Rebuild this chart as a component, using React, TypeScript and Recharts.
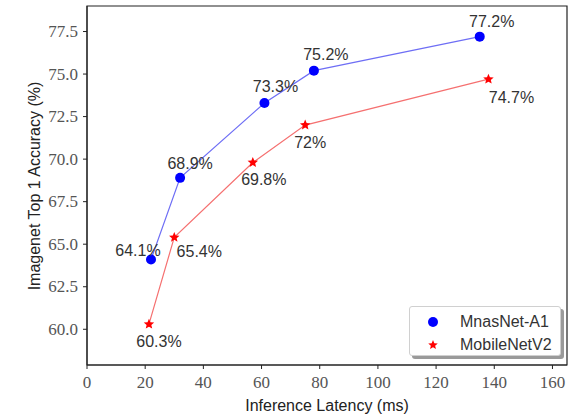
import React from "react";
import {
  ScatterChart,
  Scatter,
  XAxis,
  YAxis,
  ReferenceArea,
  Legend,
  Label
} from "recharts";

// latency (ms) and top-1 accuracy (%)
const mnasLatency = [22, 32, 61, 78, 135];
const mnasAcc = [64.1, 68.9, 73.3, 75.2, 77.2];
const mobileLatency = [21.3, 30, 57, 75, 138];
const mobileAcc = [60.3, 65.4, 69.8, 72, 74.7];

const xTicks = [0, 20, 40, 60, 80, 100, 120, 140, 160];
const yTicks = [60, 62.5, 65, 67.5, 70, 72.5, 75, 77.5];

// where each percentage label sits relative to its marker
const mnasLabelPos = [[-13, -9], [10, -14], [11, -16], [12, -16], [12, -15]];
const mobileLabelPos = [[10, 17], [25, 14], [11, 17], [5, 17], [23, 18]];

const mnasData = mnasLatency.map((x, i) => ({ x, y: mnasAcc[i] }));
const mobileData = mobileLatency.map((x, i) => ({ x, y: mobileAcc[i] }));

const sans = "'Liberation Sans', Arial, sans-serif";
const serif = "'Liberation Serif', serif";

const starPath = (cx: number, cy: number, r: number) => {
  const pts: string[] = [];
  for (let k = 0; k < 10; k++) {
    const rr = k % 2 === 0 ? r : r * 0.45;
    const a = -Math.PI / 2 + (k * Math.PI) / 5;
    pts.push(`${cx + rr * Math.cos(a)},${cy + rr * Math.sin(a)}`);
  }
  return pts.join(" ");
};

const pctText = (cx: number, cy: number, value: number, pos: number[]) => (
  <text
    x={cx + pos[0]}
    y={cy + pos[1]}
    textAnchor="middle"
    dominantBaseline="central"
    fontFamily={sans}
    fontSize={16}
    fill="#333"
  >
    {value}%
  </text>
);

const MnasShape = (props: any) => {
  const { cx, cy, index, payload } = props;
  return (
    <g>
      <circle cx={cx} cy={cy} r={5} fill="#0000ff" />
      {pctText(cx, cy, payload.y, mnasLabelPos[index])}
    </g>
  );
};

const MobileShape = (props: any) => {
  const { cx, cy, index, payload } = props;
  return (
    <g>
      <polygon points={starPath(cx, cy, 5.5)} fill="#ff0000" />
      {pctText(cx, cy, payload.y, mobileLabelPos[index])}
    </g>
  );
};

const renderXTick = (props: any) => {
  const { x, y, payload } = props;
  return (
    <text
      key={`xt-${payload.value}`}
      x={x}
      y={y + 8}
      textAnchor="middle"
      dominantBaseline="central"
      style={{ fontFamily: serif, fontSize: 17, fill: "#555" }}
    >
      {payload.value}
    </text>
  );
};

const renderYTick = (props: any) => {
  const { x, y, payload } = props;
  return (
    <text
      key={`yt-${payload.value}`}
      x={x}
      y={y}
      textAnchor="end"
      dominantBaseline="central"
      style={{ fontFamily: serif, fontSize: 17, fill: "#555" }}
    >
      {Number(payload.value).toFixed(1)}
    </text>
  );
};

const renderLegend = () => (
  <div
    style={{
      width: 152,
      height: 50,
      boxSizing: "border-box",
      border: "1px solid #d0d0d0",
      borderRadius: 3,
      background: "#fff",
      boxShadow: "3px 3px 0 #9a9a9a",
      fontFamily: sans,
      fontSize: 16,
      color: "#333",
      padding: "3px 0 0 0"
    }}
  >
    <div style={{ display: "flex", alignItems: "center", height: 23 }}>
      <svg width={50} height={20}>
        <circle cx={23} cy={10} r={5} fill="#0000ff" />
      </svg>
      <span>MnasNet-A1</span>
    </div>
    <div style={{ display: "flex", alignItems: "center", height: 23 }}>
      <svg width={50} height={20}>
        <polygon points={starPath(23, 10, 5)} fill="#ff0000" />
      </svg>
      <span>MobileNetV2</span>
    </div>
  </div>
);

const YTitle = () => (
  <text
    x={34}
    y={186}
    transform="rotate(-90 34 186)"
    textAnchor="middle"
    dominantBaseline="central"
    fontFamily={sans}
    fontSize={16}
    fill="#222"
  >
    Imagenet Top 1 Accuracy (%)
  </text>
);

export default function App() {
  return (
    <div style={{ position: "absolute", left: 0, top: 0, background: "#fff" }}>
      <ScatterChart
        width={581}
        height={414}
        margin={{ top: 6, right: 14, bottom: 0, left: 0 }}
      >
        <XAxis
          type="number"
          dataKey="x"
          domain={[0, 165]}
          ticks={xTicks}
          height={49}
          tickSize={4}
          tickMargin={5}
          stroke="#222"
          tick={renderXTick}
          allowDataOverflow
        >
          <Label
            value="Inference Latency (ms)"
            position="insideBottom"
            offset={3}
            style={{ fontFamily: sans, fontSize: 16, fill: "#222" }}
          />
        </XAxis>
        <YAxis
          type="number"
          dataKey="y"
          domain={[57.9, 79]}
          ticks={yTicks}
          width={87}
          tickSize={4}
          tickMargin={5}
          stroke="#222"
          tick={renderYTick}
          allowDataOverflow
          label={<YTitle />}
        />
        <ReferenceArea
          x1={0}
          x2={165}
          y1={57.9}
          y2={79}
          fill="none"
          stroke="#222"
          strokeWidth={1.2}
          ifOverflow="visible"
        />
        <Scatter
          name="MnasNet-A1"
          data={mnasData}
          line={{ stroke: "#6e6ef5", strokeWidth: 1.2 }}
          shape={<MnasShape />}
          isAnimationActive={false}
        />
        <Scatter
          name="MobileNetV2"
          data={mobileData}
          line={{ stroke: "#f57070", strokeWidth: 1.2 }}
          shape={<MobileShape />}
          isAnimationActive={false}
        />
        <Legend
          layout="horizontal"
          verticalAlign="middle"
          align="center"
          content={renderLegend}
          wrapperStyle={{ position: "absolute", left: 409, top: 306, width: 152, height: 50 }}
        />
      </ScatterChart>
    </div>
  );
}
